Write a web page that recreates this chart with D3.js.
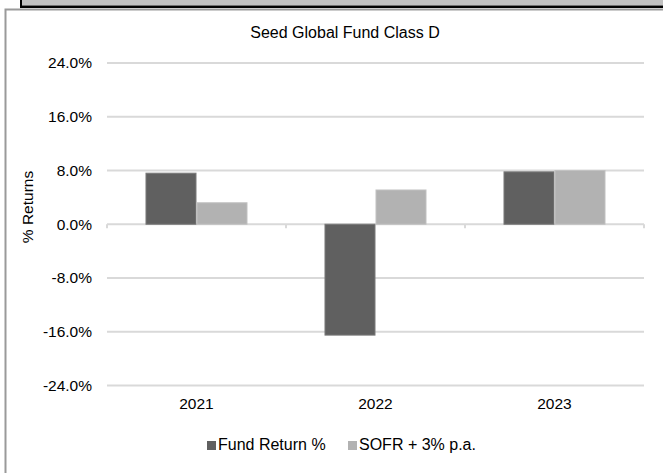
<!DOCTYPE html>
<html>
<head>
<meta charset="utf-8">
<script src="https://cdn.jsdelivr.net/npm/d3@7"></script>
<style>
  html, body { margin: 0; padding: 0; background: #fff; }
  svg { display: block; }
  text { font-family: "Liberation Sans", Arial, sans-serif; fill: #000; }
</style>
</head>
<body>
<svg id="chart" width="663" height="473"></svg>
<script>
const categories = ["2021", "2022", "2023"];
const seriesNames = ["Fund Return %", "SOFR + 3% p.a."];
const fundReturn = [7.6, -16.5, 7.8];
const sofrReturn = [3.2, 5.1, 8.0];
const yTicks = [-24, -16, -8, 0, 8, 16, 24];
const title = "Seed Global Fund Class D";
const yTitle = "% Returns";

const colors = ["#606060", "#b2b2b2"];
const strokes = ["#7a7a7a", "#c2c2c2"];

const svg = d3.select("#chart");

// frame decorations
svg.append("rect").attr("x", 21).attr("y", 0).attr("width", 642).attr("height", 5.5).attr("fill", "#c0c0c0");
svg.append("rect").attr("x", 20).attr("y", 5.5).attr("width", 643).attr("height", 2.5).attr("fill", "#000");
svg.append("rect").attr("x", 20).attr("y", 0).attr("width", 2).attr("height", 8).attr("fill", "#000");
svg.append("path").attr("d", "M5.5,473 L5.5,9.5 L663,9.5").attr("fill", "none").attr("stroke", "#9a9a9a").attr("stroke-width", 2);

const x = d3.scaleBand().domain(categories).range([107, 644]).padding(0);
const bw = x.bandwidth();
const xi = d3.scaleBand().domain(seriesNames).range([bw * 0.215, bw * 0.785]).padding(0);
const y = d3.scaleLinear().domain([-24, 24]).range([385.5, 63]);

// gridlines
svg.append("g").selectAll("line").data(yTicks).join("line")
  .attr("x1", 107).attr("x2", 644)
  .attr("y1", d => y(d)).attr("y2", d => y(d))
  .attr("stroke", "#d9d9d9").attr("stroke-width", 2);

// category boundary ticks on zero line
const bounds = categories.map(c => x(c)).concat([x(categories[categories.length - 1]) + bw]);
svg.append("g").selectAll("line").data(bounds).join("line")
  .attr("x1", d => d).attr("x2", d => d)
  .attr("y1", y(0)).attr("y2", y(0) + 4)
  .attr("stroke", "#d9d9d9").attr("stroke-width", 2);

// y tick labels
const fmt = d => d3.format(".1f")(d).replace("\u2212", "-") + "%";
svg.append("g").selectAll("text").data(yTicks).join("text")
  .attr("x", 92).attr("y", d => y(d)).attr("dy", "0.35em")
  .attr("text-anchor", "end").attr("font-size", 15.5)
  .text(fmt);

// bars
const data = categories.map((c, i) => ({ c, vals: [fundReturn[i], sofrReturn[i]] }));
const groups = svg.append("g").selectAll("g").data(data).join("g")
  .attr("transform", d => `translate(${x(d.c)},0)`);
groups.selectAll("rect").data(d => d.vals.map((v, j) => ({ v, s: seriesNames[j], j }))).join("rect")
  .attr("x", d => xi(d.s) + 0.5)
  .attr("width", xi.bandwidth() - 1)
  .attr("y", d => Math.min(y(d.v), y(0)))
  .attr("height", d => Math.abs(y(d.v) - y(0)))
  .attr("fill", d => colors[d.j])
  .attr("stroke", d => strokes[d.j]).attr("stroke-width", 1);

// x labels
svg.append("g").selectAll("text").data(categories).join("text")
  .attr("x", d => x(d) + bw / 2).attr("y", 409)
  .attr("text-anchor", "middle").attr("font-size", 15.5)
  .text(d => d);

// title
svg.append("text").attr("x", 345).attr("y", 38).attr("text-anchor", "middle").attr("font-size", 16).text(title);

// y title
svg.append("text").attr("transform", "translate(33,207) rotate(-90)").attr("text-anchor", "middle").attr("font-size", 15.5).text(yTitle);

// legend
const legendX = [207, 348];
const lg = svg.append("g").selectAll("g").data(seriesNames).join("g")
  .attr("transform", (d, i) => `translate(${legendX[i]},0)`);
lg.append("rect").attr("x", 0).attr("y", 441).attr("width", 9).attr("height", 9).attr("fill", (d, i) => colors[i]);
lg.append("text").attr("x", 11).attr("y", 450).attr("font-size", 16).text(d => d);
</script>
</body>
</html>
